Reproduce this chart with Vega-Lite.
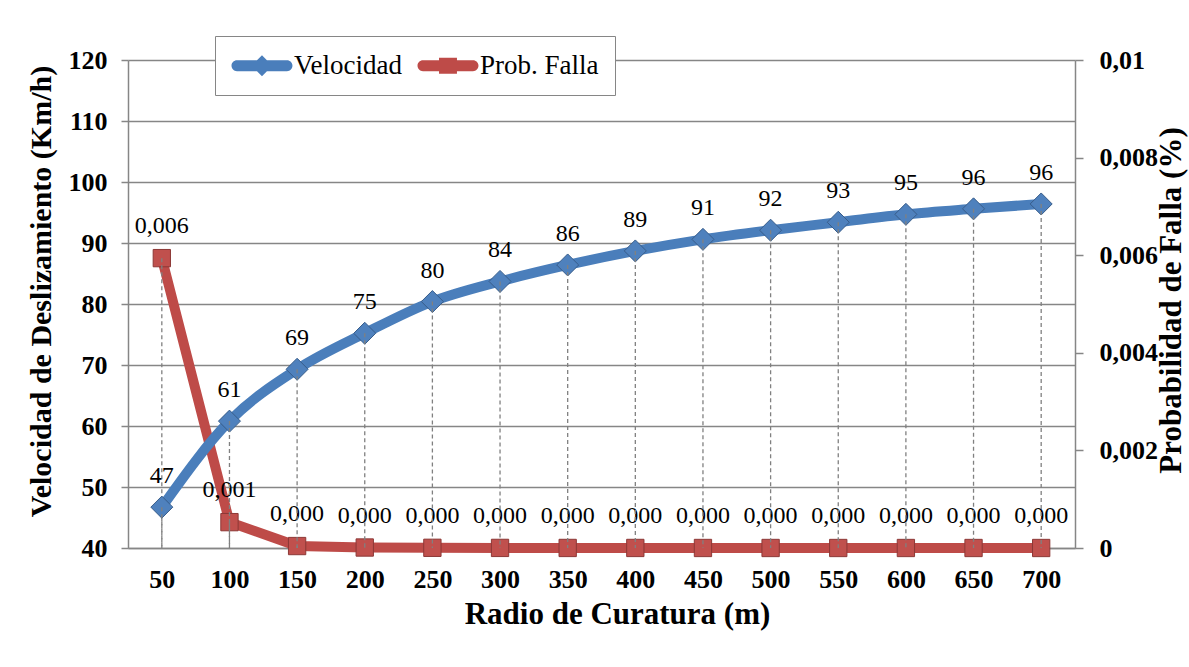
{
  "$schema": "https://vega.github.io/schema/vega-lite/v6.json",
  "width": 947,
  "height": 488,
  "autosize": {"type": "none"},
  "padding": {"left": 128, "top": 60, "right": 114, "bottom": 119},
  "background": "white",
  "config": {
    "font": "Liberation Serif",
    "view": {"stroke": null},
    "locale": {
      "number": {"decimal": ",", "thousands": ".", "grouping": [3], "currency": ["", " €"]}
    },
    "axis": {
      "domainColor": "#868686",
      "domainWidth": 1.5,
      "tickColor": "#868686",
      "tickWidth": 1.5,
      "gridColor": "#868686",
      "gridWidth": 1.4,
      "labelFont": "Liberation Serif",
      "labelFontSize": 26,
      "labelFontWeight": "bold",
      "labelColor": "#000000",
      "titleFont": "Liberation Serif",
      "titleFontWeight": "bold",
      "titleColor": "#000000"
    }
  },
  "data": {
    "values": [
      {"radio": 50, "velocidad": 46.7, "prob": 0.00594},
      {"radio": 100, "velocidad": 60.8, "prob": 0.00053},
      {"radio": 150, "velocidad": 69.3, "prob": 0.00004},
      {"radio": 200, "velocidad": 75.2, "prob": 0.00001},
      {"radio": 250, "velocidad": 80.4, "prob": 0.000004},
      {"radio": 300, "velocidad": 83.7, "prob": 0.000002},
      {"radio": 350, "velocidad": 86.4, "prob": 0.000001},
      {"radio": 400, "velocidad": 88.7, "prob": 0.000001},
      {"radio": 450, "velocidad": 90.6, "prob": 0.0000005},
      {"radio": 500, "velocidad": 92.1, "prob": 0.0000003},
      {"radio": 550, "velocidad": 93.4, "prob": 0.0000002},
      {"radio": 600, "velocidad": 94.7, "prob": 0.0000001},
      {"radio": 650, "velocidad": 95.6, "prob": 0.0000001},
      {"radio": 700, "velocidad": 96.4, "prob": 0.0000001}
    ]
  },
  "encoding": {
    "x": {
      "field": "radio",
      "type": "ordinal",
      "scale": {"type": "point", "padding": 0.5},
      "axis": {
        "orient": "bottom",
        "labelAngle": 0,
        "ticks": false,
        "grid": false,
        "labelPadding": 18,
        "title": "Radio de Curatura (m)",
        "titleFontSize": 31,
        "titleX": 489,
        "titleY": 75,
        "titleAlign": "center",
        "titleBaseline": "alphabetic"
      }
    }
  },
  "layer": [
    {
      "encoding": {
        "y": {
          "field": "prob",
          "type": "quantitative",
          "scale": {"domain": [0, 0.01], "nice": false, "zero": true},
          "axis": {
            "orient": "right",
            "values": [0, 0.002, 0.004, 0.006, 0.008, 0.01],
            "format": "~g",
            "grid": false,
            "tickSize": 8,
            "labelPadding": 16,
            "title": "Probabilidad de Falla (%)",
            "titleFontSize": 31,
            "titleAngle": 270,
            "titleAlign": "center",
            "titleBaseline": "top",
            "titleX": 81,
            "titleY": 240
          }
        }
      },
      "layer": [
        {
          "mark": {"type": "line", "strokeWidth": 10, "strokeJoin": "round", "strokeCap": "round"},
          "encoding": {
            "color": {
              "datum": "Prob. Falla",
              "type": "nominal",
              "scale": {"domain": ["Velocidad", "Prob. Falla"], "range": ["#4A7EBB", "#BE4B48"]},
              "legend": {
                "orient": "none",
                "legendX": 87,
                "legendY": -24,
                "direction": "horizontal",
                "title": null,
                "padding": 16,
                "strokeColor": "#868686",
                "fillColor": "#ffffff",
                "labelFont": "Liberation Serif",
                "labelFontSize": 27,
                "labelFontWeight": "normal",
                "labelColor": "#000000",
                "labelOffset": 36,
                "columnPadding": 15,
                "symbolSize": 676,
                "labelLimit": 300,
                "encode": {
                  "symbols": {
                    "update": {
                      "shape": {"signal": "datum.value === 'Velocidad' ? 'M-0.58,-0.42H3.27A0.42,0.42 0 0 1 3.27,0.42H-0.58A0.42,0.42 0 0 1 -0.58,-0.42Z M1.345,-0.8L2.145,0L1.345,0.8L0.545,0Z' : 'M-0.58,-0.42H3.27A0.42,0.42 0 0 1 3.27,0.42H-0.58A0.42,0.42 0 0 1 -0.58,-0.42Z M0.655,-0.62H2.035V0.62H0.655Z'"},
                      "fill": {"scale": "color", "field": "value"},
                      "stroke": {"value": "transparent"},
                      "strokeWidth": {"value": 0},
                      "size": {"value": 676},
                      "opacity": {"value": 1}
                    }
                  }
                }
              }
            }
          }
        },
        {
          "mark": {"type": "point", "shape": "square", "size": 300, "filled": true, "fill": "#C0504D", "stroke": "#8C3836", "strokeWidth": 1, "opacity": 1}
        },
        {
          "mark": {"type": "text", "dy": -32, "fontSize": 24, "color": "#000000", "font": "Liberation Serif"},
          "encoding": {"text": {"field": "prob", "type": "quantitative", "format": ".3f"}}
        },
        {
          "mark": {"type": "rule", "stroke": "#808080", "strokeWidth": 1.3, "strokeDash": [4, 3]},
          "encoding": {"y2": {"datum": 0}}
        }
      ]
    },
    {
      "encoding": {
        "y": {
          "field": "velocidad",
          "type": "quantitative",
          "scale": {"domain": [40, 120], "nice": false, "zero": false},
          "axis": {
            "orient": "left",
            "values": [40, 50, 60, 70, 80, 90, 100, 110, 120],
            "grid": true,
            "tickSize": 7,
            "labelPadding": 14,
            "title": "Velocidad de Deslizamiento (Km/h)",
            "titleFontSize": 30,
            "titleAngle": 270,
            "titleAlign": "center",
            "titleBaseline": "top",
            "titleX": -102,
            "titleY": 231
          }
        }
      },
      "layer": [
        {
          "mark": {"type": "line", "strokeWidth": 10, "strokeCap": "round", "interpolate": "monotone"},
          "encoding": {"color": {"datum": "Velocidad", "type": "nominal"}}
        },
        {
          "mark": {"type": "point", "shape": "diamond", "size": 484, "filled": true, "fill": "#4F81BD", "stroke": "#385D8A", "strokeWidth": 1, "opacity": 1}
        },
        {
          "mark": {"type": "text", "dy": -31, "fontSize": 24, "color": "#000000", "font": "Liberation Serif"},
          "encoding": {"text": {"field": "velocidad", "type": "quantitative", "format": ".0f"}}
        },
        {
          "mark": {"type": "rule", "stroke": "#808080", "strokeWidth": 1.3, "strokeDash": [4, 3]},
          "encoding": {"y2": {"datum": 40}}
        }
      ]
    }
  ],
  "resolve": {"scale": {"y": "independent"}}
}
